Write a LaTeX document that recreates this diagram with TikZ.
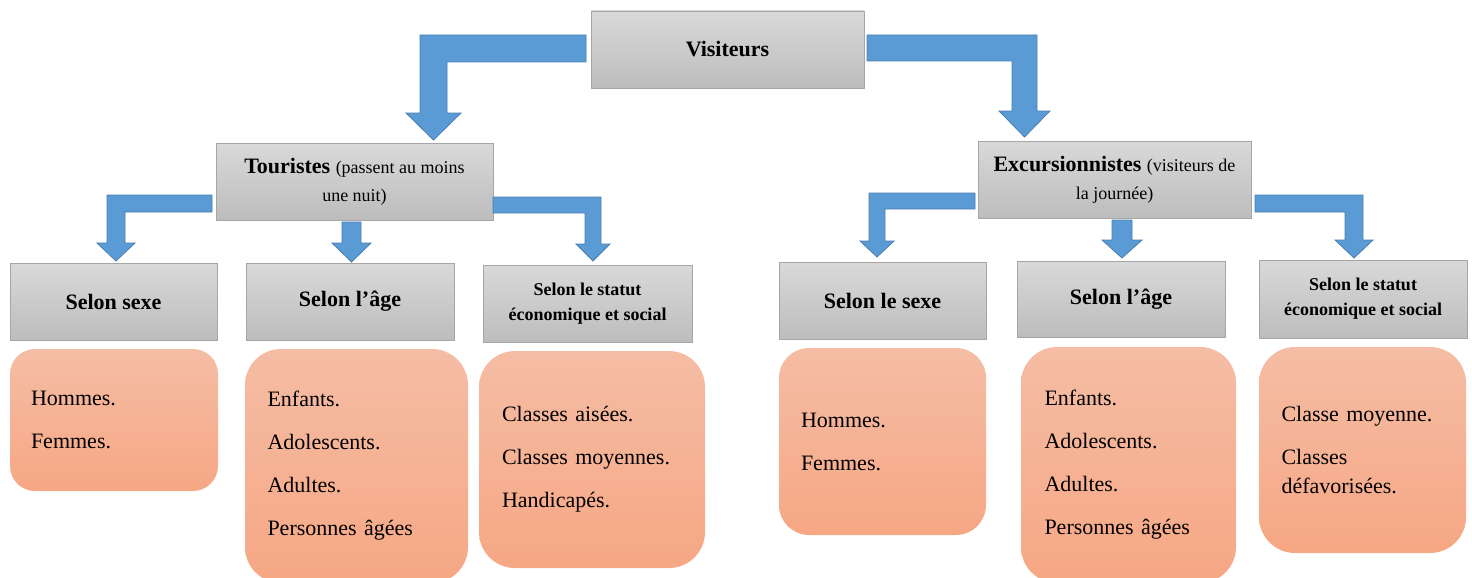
\documentclass[tikz,border=0pt]{standalone}
\usepackage{fontspec}
\setmainfont{Liberation Serif}
\begin{document}
\begin{tikzpicture}[x=1pt,y=-1pt,
  graybox/.style={draw=gray!70, line width=0.8pt, top color=black!15, bottom color=black!26,
    align=center, inner sep=0pt, font=\bfseries\fontsize{22}{28}\selectfont},
  smallgray/.style={graybox, font=\bfseries\fontsize{18}{25}\selectfont},
  orangebox/.style={draw=none, top color=orangeT, bottom color=orangeB, rounded corners=30pt,
    align=left, inner sep=0pt, anchor=center, font=\fontsize{22}{29}\selectfont},
  blockarrow/.style={fill=arrowblue, draw=arrowedge, line width=0.8pt, line join=miter}]
\definecolor{orangeT}{HTML}{F5BDA5}
\definecolor{orangeB}{HTML}{F6A784}
\definecolor{arrowblue}{HTML}{5B9BD5}
\definecolor{arrowedge}{HTML}{4A7EB0}
\useasboundingbox (0,0) rectangle (1472,578);
% gray boxes
\node[graybox, minimum width=273pt, minimum height=77pt] (V) at (727.5,49.5) {Visiteurs};
\node[graybox, minimum width=277pt, minimum height=77pt] (T) at (354.5,181.5)
  {Touristes {\mdseries\fontsize{18}{27}\selectfont (passent au moins}\\{\mdseries\fontsize{18}{27}\selectfont une nuit)}};
\node[graybox, minimum width=273pt, minimum height=77pt] (E) at (1114.5,179.5)
  {Excursionnistes {\mdseries\fontsize{18}{27}\selectfont (visiteurs de}\\{\mdseries\fontsize{18}{27}\selectfont la journée)}};
\node[graybox, minimum width=207pt, minimum height=77pt] (T1) at (113.5,301.5) {Selon sexe};
\node[graybox, minimum width=208pt, minimum height=77pt] (T2) at (350,301.5) {Selon l’âge};
\node[smallgray, minimum width=209pt, minimum height=77pt] (T3) at (587.5,303.5) {Selon le statut\\économique et social};
\node[graybox, minimum width=207pt, minimum height=77pt] (E1) at (882.5,300.5) {Selon le sexe};
\node[graybox, minimum width=208pt, minimum height=76pt] (E2) at (1121,299) {Selon l’âge};
\node[smallgray, minimum width=208pt, minimum height=78pt] (E3) at (1363,299) {Selon le statut\\économique et social};
% orange boxes
\node[orangebox, rounded corners=25pt, minimum width=208pt, minimum height=142pt, text width=166pt] (O1) at (114,420)
  {Hommes.\\[14pt]Femmes.};
\node[orangebox, rounded corners=36pt, minimum width=223pt, minimum height=234pt, text width=178pt] (O2) at (356.5,466)
  {Enfants.\\[14pt]Adolescents.\\[14pt]Adultes.\\[14pt]Personnes âgées};
\node[orangebox, rounded corners=36pt, minimum width=226pt, minimum height=217pt, text width=180pt] (O3) at (592,459.5)
  {Classes aisées.\\[14pt]Classes moyennes.\\[14pt]Handicapés.};
\node[orangebox, rounded corners=30pt, minimum width=207pt, minimum height=187pt, text width=163pt] (O4) at (882.5,441.5)
  {Hommes.\\[14pt]Femmes.};
\node[orangebox, rounded corners=36pt, minimum width=215pt, minimum height=236pt, text width=168pt] (O5) at (1128.5,465)
  {Enfants.\\[14pt]Adolescents.\\[14pt]Adultes.\\[14pt]Personnes âgées};
\node[orangebox, rounded corners=36pt, minimum width=207pt, minimum height=206pt, text width=162pt] (O6) at (1362.5,450)
  {Classe moyenne.\\[14pt]Classes\\défavorisées.};
% block arrows
\draw[blockarrow] (586,35) -- (420,35) -- (420,113) -- (406,113) -- (433.5,140) -- (461,113) -- (447,113) -- (447,62) -- (586,62) -- cycle;
\draw[blockarrow] (867,35) -- (1037,35) -- (1037,111) -- (1050,111) -- (1024.5,137) -- (999,111) -- (1012,111) -- (1012,61) -- (867,61) -- cycle;
\draw[blockarrow] (212,195) -- (107,195) -- (107,243) -- (97,243) -- (116,261) -- (135,243) -- (125,243) -- (125,212) -- (212,212) -- cycle;
\draw[blockarrow] (342,222) -- (361,222) -- (361,243) -- (371,243) -- (351.5,262) -- (332,243) -- (342,243) -- cycle;
\draw[blockarrow] (493,197) -- (601,197) -- (601,244) -- (610,244) -- (593,261) -- (576,244) -- (585,244) -- (585,213) -- (493,213) -- cycle;
\draw[blockarrow] (975,193) -- (869,193) -- (869,241) -- (860,241) -- (877,257) -- (894,241) -- (885,241) -- (885,209) -- (975,209) -- cycle;
\draw[blockarrow] (1112,220) -- (1132,220) -- (1132,240) -- (1142,240) -- (1122,258) -- (1102,240) -- (1112,240) -- cycle;
\draw[blockarrow] (1255,195) -- (1363,195) -- (1363,240) -- (1373,240) -- (1354,258) -- (1335,240) -- (1345,240) -- (1345,212) -- (1255,212) -- cycle;
\end{tikzpicture}
\end{document}
